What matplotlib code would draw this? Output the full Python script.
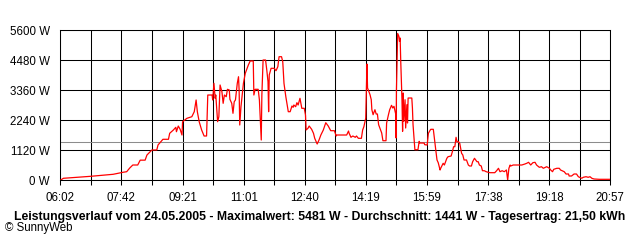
import matplotlib
matplotlib.use("Agg")
import matplotlib.pyplot as plt
import numpy as np

# time of day in minutes since midnight
minutes = [362, 367, 412, 431, 448, 464, 470, 475, 480, 488, 492, 500, 503, 511, 519, 521, 529, 538,
           540, 546, 550, 551, 554, 557, 560, 561, 568, 576, 580, 583, 585, 588, 592, 596, 600, 602,
           609, 610, 612, 614, 615, 618, 620, 622, 625, 627, 629, 632, 634, 637, 638, 641, 643, 645,
           647, 650, 652, 653, 654, 656, 660, 663, 665, 668, 671, 676, 677, 679, 684, 686, 689, 690,
           692, 696, 698, 700, 701, 702, 705, 710, 713, 716, 718, 722, 724, 726, 729, 732, 733, 736,
           739, 741, 742, 745, 747, 749, 752, 754, 755, 759, 761, 762, 765, 767, 771, 774, 776, 780,
           783, 786, 790, 794, 798, 802, 808, 811, 812, 828, 831, 832, 835, 838, 842, 844, 847, 852,
           854, 856, 859, 861, 862, 863, 866, 868, 869, 871, 874, 876, 878, 880, 882, 885, 887, 892,
           893, 896, 898, 901, 903, 905, 908, 908.5, 909, 911, 913, 914, 915, 916, 918, 919, 920, 921,
           923, 924, 926, 927, 928, 934, 935, 936, 938, 939, 944, 946, 947, 954, 955, 959, 961, 964,
           965, 969, 971, 973, 975, 977, 980, 981, 985, 987, 989, 991, 993, 998, 1000, 1002, 1004,
           1006, 1007.5, 1010, 1012, 1015, 1017, 1019, 1023, 1026, 1028, 1031, 1033, 1036, 1040, 1042,
           1044, 1047, 1049, 1052, 1055, 1061, 1069, 1072, 1075, 1077.5, 1081, 1084.5, 1088, 1090,
           1092, 1094, 1095, 1099, 1113, 1118, 1121, 1124, 1127.5, 1131, 1134.5, 1137, 1141.5, 1145,
           1148, 1153.5, 1158, 1160, 1163, 1165, 1170, 1174, 1176, 1182, 1185, 1189, 1190, 1194, 1198,
           1202, 1205, 1210.5, 1213, 1217.5, 1221, 1224, 1227, 1230.5, 1239, 1257]

watts = [0, 75, 150, 187, 224, 299, 321, 459, 571, 571, 752, 752, 944, 1131, 1131, 1318, 1531, 1531,
         1755, 1878, 1978, 1814, 2027, 1904, 1691, 2188, 2314, 2374, 2561, 2998, 2561, 2188, 1878, 1654, 1654, 3184,
         3184, 2998, 3621, 3061, 3184, 2188, 2374, 3558, 3307, 2874, 3184, 3121, 3397, 3371, 3024, 2874, 2501, 2934,
         2998, 3621, 3867, 3371, 2064, 2748, 3621, 3994, 4118, 4304, 4454, 4454, 3184, 3397, 3397, 2998, 1504, 3184,
         4491, 4491, 4118, 3681, 2561, 3931, 4181, 4181, 4091, 4241, 4614, 4614, 4427, 3621, 3121, 2688, 2561, 2561,
         2774, 2725, 2811, 2748, 2897, 2811, 3061, 2811, 2688, 2688, 2438, 1878, 1941, 2027, 1904, 1755, 1568, 1355,
         1504, 1691, 1878, 2150, 2027, 1852, 1852, 1654, 1691, 1691, 1840, 1755, 1605, 1654, 1605, 1654, 1568, 1568,
         1878, 2001, 2314, 4341, 3446, 3382, 3195, 3009, 2635, 2449, 2635, 2475, 2475, 2076, 1952, 1766, 1478, 1478,
         2139, 2449, 2635, 2800, 2699, 2762, 2449, 1579, 3382, 5481, 5376, 5189, 5312, 4442, 3009, 1829, 3259, 2202,
         3009, 1952, 2822, 2139, 3072, 3072, 2699, 2076, 1456, 1142, 1142, 1456, 1392, 1392, 1329, 1318, 1755, 1878,
         1904, 1904, 1504, 1131, 758, 657, 385, 448, 635, 571, 694, 821, 881, 907, 1068, 1254, 1254,
         1605, 1441, 1441, 1381, 1008, 944, 758, 758, 571, 534, 534, 694, 821, 694, 694,
         571, 534, 358, 358, 321, 284, 284, 358, 448, 321, 358, 321, 385, 10,
         448, 571, 534, 571, 571, 608, 635, 672, 571, 657, 672, 571, 485, 508,
         448, 508, 448, 385, 321, 411, 448, 448, 385, 321, 235, 235, 161, 161, 235,
         235, 134, 75, 112, 134, 112, 134, 75, 49, 37, 37]

average_w = 1441
y_ticks = [0, 1120, 2240, 3360, 4480, 5600]
y_labels = ["0 W", "1120 W", "2240 W", "3360 W", "4480 W", "5600 W"]
x_start, x_end = 362, 1257
x_labels = ["06:02", "07:42", "09:21", "11:01", "12:40", "14:19", "15:59", "17:38", "19:18", "20:57"]
title = ("Leistungsverlauf vom 24.05.2005 - Maximalwert: 5481 W - "
         "Durchschnitt: 1441 W - Tagesertrag: 21,50 kWh")
credit = "\u00a9 SunnyWeb"

plt.rcParams['font.family'] = ['Liberation Sans', 'DejaVu Sans']

W, H = 640, 240
fig = plt.figure(figsize=(W / 100, H / 100), dpi=100)
fig.patch.set_facecolor("white")
ax = fig.add_axes([60.3 / W, 1 - 180.3 / H, 550 / W, 150 / H])

lw = 0.75
grid_x = np.linspace(x_start, x_end, 19)
for gx in grid_x:
    ax.axvline(gx, color="black", lw=lw, zorder=1)
for gy in y_ticks:
    ax.axhline(gy, color="black", lw=lw, zorder=1)
ax.axhline(average_w, color="#8c8c8c", lw=lw, zorder=1.5)

ax.plot(minutes, watts, color="#ff0000", lw=0.9, zorder=3)

ax.set_xlim(x_start, x_end)
ax.set_ylim(0, 5600)

ax.set_xticks(grid_x)
ax.set_xticklabels([x_labels[i // 2] if i % 2 == 0 else "" for i in range(19)])
ax.set_yticks(y_ticks)
ax.set_yticklabels(y_labels)
ax.tick_params(axis="x", direction="out", length=3.6, width=lw, pad=5, labelsize=8.3, colors="black")
ax.tick_params(axis="y", length=0, pad=7.5, labelsize=8.3)
for s in ax.spines.values():
    s.set_linewidth(lw)
    s.set_color("black")

fig.text(320 / W, 1 - 217 / H, title, ha="center", va="center", fontsize=8.8, fontweight="bold")
fig.text(5 / W, 1 - 228.5 / H, credit, ha="left", va="center", fontsize=8.3)

fig.savefig("out.png", dpi=100, facecolor="white")
